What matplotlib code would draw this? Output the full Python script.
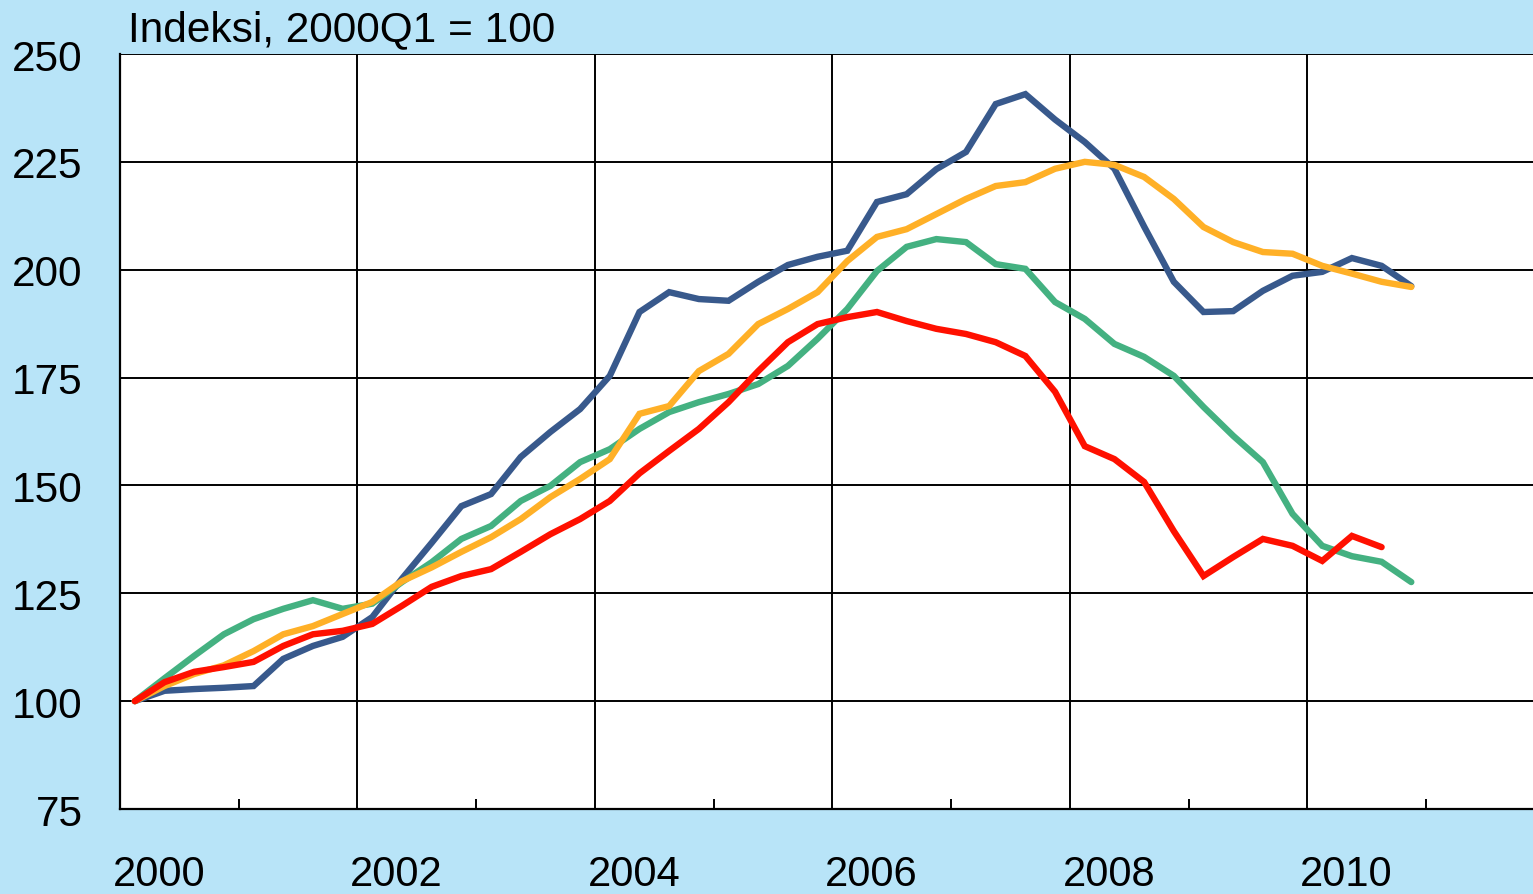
import matplotlib
matplotlib.use('Agg')
import matplotlib.pyplot as plt
import matplotlib.transforms as mtransforms
import numpy as np

plt.rcParams['font.family'] = ['Liberation Sans', 'DejaVu Sans']

# Quarterly index, 2000Q1 = 100
blue = [100, 102.4, 102.8, 103.1, 103.5, 109.8, 112.8, 114.9, 119.5, 128.4,
        136.7, 145.2, 148.0, 156.6, 162.4, 167.7, 175.4, 190.2, 194.8, 193.2,
        192.8, 197.2, 201.1, 203.0, 204.4, 215.7, 217.5, 223.3, 227.3, 238.4,
        240.7, 234.8, 229.6, 223.4, 210.0, 197.2, 190.2, 190.4, 195.1, 198.6,
        199.5, 202.7, 200.9, 196.2]
green = [100, 105.3, 110.5, 115.5, 119.0, 121.4, 123.4, 121.4, 122.6, 127.6,
         132.2, 137.6, 140.6, 146.4, 149.9, 155.4, 158.4, 163.1, 167.0, 169.3,
         171.2, 173.5, 177.7, 184.0, 190.9, 199.7, 205.3, 207.1, 206.4, 201.3,
         200.2, 192.5, 188.6, 182.8, 179.8, 175.4, 168.2, 161.5, 155.4, 143.4,
         136.0, 133.6, 132.3, 127.6]
orange = [100, 103.5, 106.3, 108.3, 111.6, 115.5, 117.4, 120.2, 123.0, 127.8,
          131.0, 134.6, 138.0, 142.2, 147.3, 151.5, 156.1, 166.6, 168.4, 176.5,
          180.5, 187.4, 190.9, 194.8, 202.0, 207.6, 209.4, 212.9, 216.4, 219.4,
          220.3, 223.4, 225.0, 224.3, 221.5, 216.4, 209.9, 206.4, 204.1, 203.7,
          200.9, 199.1, 197.2, 196.0]
red = [100, 104.4, 106.8, 107.9, 109.1, 112.8, 115.5, 116.3, 117.9, 122.1,
       126.5, 129.0, 130.6, 134.6, 138.7, 142.2, 146.4, 152.8, 158.0, 163.1,
       169.3, 176.5, 183.2, 187.4, 189.0, 190.2, 188.1, 186.3, 185.1, 183.2,
       180.0, 171.7, 159.1, 156.1, 150.8, 139.4, 129.0, 133.4, 137.6, 136.0,
       132.5, 138.3, 135.7]

year_labels = ['2000', '2002', '2004', '2006', '2008', '2010']
y_ticks = [75, 100, 125, 150, 175, 200, 225, 250]

bg = '#b8e4f8'
fig = plt.figure(figsize=(15.33, 8.95), dpi=100, facecolor=bg)
ax = fig.add_axes([120 / 1533, 1 - 810 / 895, 1413 / 1533, 755 / 895])
ax.set_facecolor('white')

def quarters(n):
    return 2000 + (np.arange(n) + 0.5) / 4.0

series = [(blue, '#38598c'), (green, '#44b181'), (orange, '#ffb027'), (red, '#ff1000')]
for values, color in series:
    ax.plot(quarters(len(values)), values, color=color, lw=4.6,
            solid_capstyle='round', solid_joinstyle='miter', zorder=3)

ax.set_xlim(2000, 2011.9)
ax.set_ylim(75, 250)

# grid
for y in y_ticks[1:]:
    ax.axhline(y, color='black', lw=1.4, zorder=1)
for yr in range(2002, 2012, 2):
    ax.axvline(yr, color='black', lw=1.4, zorder=1)

ax.set_yticks(y_ticks)
ax.set_yticklabels([str(v) for v in y_ticks])
ax.tick_params(axis='y', length=0, pad=27, labelsize=30.5)
ax.set_xticks(range(2001, 2012, 2))
ax.set_xticklabels([])
ax.tick_params(axis='x', direction='in', length=7, width=1.4, color='black')

for side in ['top', 'right']:
    ax.spines[side].set_visible(False)
for side in ['left', 'bottom']:
    ax.spines[side].set_linewidth(1.6)

trans = mtransforms.blended_transform_factory(ax.transData, ax.transAxes)
for lbl in year_labels:
    ax.text(int(lbl) + 0.33, -0.086, lbl, transform=trans, ha='center',
            va='center', fontsize=30, clip_on=False)

fig.text(128 / 1533, 1 - 30 / 895, 'Indeksi, 2000Q1 = 100', ha='left',
         va='center', fontsize=30.5)

fig.savefig('out.png', dpi=100, facecolor=bg)
